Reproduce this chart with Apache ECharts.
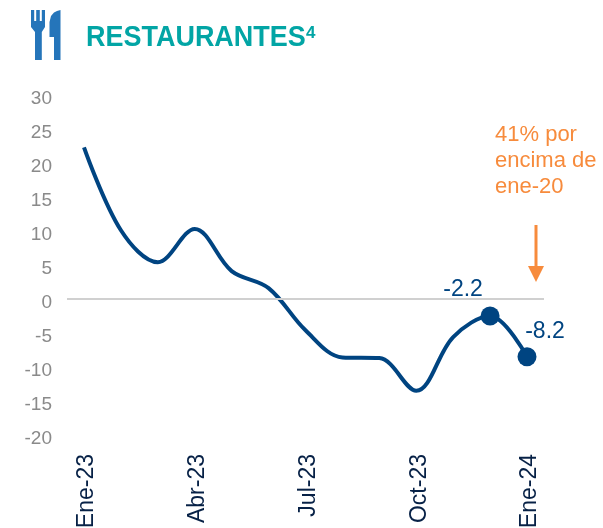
<!DOCTYPE html>
<html><head><meta charset="utf-8">
<style>html,body{margin:0;padding:0;background:#fff}#c{width:603px;height:528px}</style>
<script src="https://cdn.jsdelivr.net/npm/echarts@6/dist/echarts.min.js"></script>
</head><body><div id="c"></div>
<script>
const months = ['Ene-23','Feb-23','Mar-23','Abr-23','May-23','Jun-23','Jul-23','Ago-23','Sep-23','Oct-23','Nov-23','Dic-23','Ene-24'];
const values = [22.6,10.4,5.7,10.6,4.4,1.9,-4.3,-8.3,-8.4,-13.2,-5.3,-2.2,-8.2];
const yTicks = {min:-20,max:30,step:5};
const titleText = 'RESTAURANTES';
const noteLines = ['41% por','encima de','ene-20'];
const FONT = '"Liberation Sans", Arial, sans-serif';
const navy = '#004481';
const blue = '#2575BA';
const orange = '#F78B3C';
const teal = '#02A5A5';
const chart = echarts.init(document.getElementById('c'), null, {renderer:'canvas'});
chart.setOption({
  animation:false,
  backgroundColor:'#fff',
  grid:{left:84,top:97,width:443,height:340,containLabel:false,outerBoundsMode:'none'},
  xAxis:{type:'category',data:months,boundaryGap:false,
    axisLine:{show:false},axisTick:{show:false},splitLine:{show:false},
    axisLabel:{interval:2,rotate:90,margin:17,
      verticalAlign:'middle',align:'right',hideOverlap:false,showMinLabel:true,showMaxLabel:true,
      formatter:v=>'{m|'+v+'}',
      rich:{m:{fontFamily:FONT,fontSize:23,color:'#072146',padding:[6,0,0,0]}}}},
  yAxis:{type:'value',min:yTicks.min,max:yTicks.max,interval:yTicks.step,
    axisLine:{show:false},axisTick:{show:false},splitLine:{show:false},
    axisLabel:{margin:32,
      formatter:v=>'{t|'+v+'}',
      rich:{t:{fontFamily:FONT,fontSize:19,color:'#8a8a8a',padding:[4,0,0,0]}}}},
  series:[{type:'line',data:values,smooth:0.35,symbol:'none',
    lineStyle:{color:navy,width:4},
    markLine:{silent:true,symbol:'none',label:{show:false},
      lineStyle:{color:'#d0d0d0',width:2,type:'solid'},
      data:[[{coord:[0,0.3],x:67},{coord:[12,0.3],x:544}]]},
    markPoint:{silent:true,symbol:'circle',symbolSize:19,
      itemStyle:{color:navy},
      data:[
        {coord:[11,values[11]],value:values[11],label:{show:true,position:'top',distance:5,offset:[-27,0],color:navy,fontFamily:FONT,fontSize:23,formatter:'{c}'}},
        {coord:[12,values[12]],value:values[12],label:{show:true,position:'top',distance:4,offset:[18,0],color:navy,fontFamily:FONT,fontSize:23,formatter:'{c}'}}
      ]}
  }],
  graphic:[
    {type:'text',x:86,y:23,scaleX:0.93,style:{text:titleText,fill:teal,font:'bold 29px '+FONT}},
    {type:'text',x:306,y:25,style:{text:'4',fill:teal,font:'bold 17px '+FONT}},
    {type:'group',children:[
      {type:'polygon',shape:{points:[[31,10],[34.2,10],[34.2,21],[36.2,21],[36.2,10],[39.8,10],[39.8,21],[41.8,21],[41.8,10],[45,10],[45,27],[41.8,32],[41.8,60],[35,60],[35,32],[31,27]]},style:{fill:blue}},
      {type:'polygon',shape:{points:[[60.5,10],[60.5,60],[54,60],[54,37],[49.5,37],[49.5,22],[51,16],[54,12.5],[57,11]]},style:{fill:blue}}
    ]},
    {type:'text',left:495,top:122,style:{text:noteLines.join('\n'),fill:orange,font:'22px '+FONT,lineHeight:26}},
    {type:'line',shape:{x1:536,y1:225,x2:536,y2:268},style:{stroke:orange,lineWidth:3}},
    {type:'polygon',shape:{points:[[528,266],[544,266],[536,282]]},style:{fill:orange}}
  ]
});
</script></body></html>
